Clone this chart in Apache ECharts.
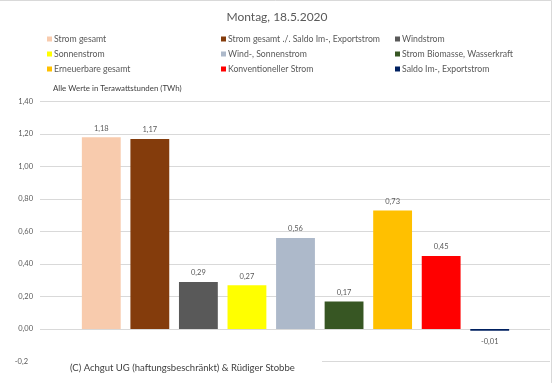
<!DOCTYPE html>
<html><head><meta charset="utf-8">
<script src="https://cdn.jsdelivr.net/npm/echarts@6/dist/echarts.min.js"></script>
<style>html,body{margin:0;padding:0;background:#fff}#c{width:554px;height:383px}</style>
</head><body><div id="c"></div>
<script>
const categories = ['Strom gesamt','Strom gesamt ./. Saldo Im-, Exportstrom','Windstrom','Sonnenstrom','Wind-, Sonnenstrom','Strom Biomasse, Wasserkraft','Erneuerbare gesamt','Konventioneller Strom','Saldo Im-, Exportstrom'];
const values = [1.18, 1.17, 0.29, 0.27, 0.56, 0.17, 0.73, 0.45, -0.01];
const colors = ['#F8CBAD','#843C0C','#595959','#FFFF00','#ADB9CA','#375623','#FFC000','#FF0000','#002060'];
const yTicks = {min: -0.2, max: 1.4, interval: 0.2};
const titleText = 'Montag, 18.5.2020';
const unitText = 'Alle Werte in Terawattstunden (TWh)';
const copyright = '(C) Achgut UG (haftungsbeschränkt) & Rüdiger Stobbe';

const FONT = 'Lato';
const fmt = v => v.toFixed(2).replace('.', ',');

const series = categories.map((name, i) => ({
  name, type: 'bar', stack: 'all', xAxisIndex: 0, yAxisIndex: 0,
  barWidth: '80%',
  itemStyle: {color: colors[i]},
  data: values.map((v, j) => j === i ? v : '-'),
  label: {show: true, position: values[i] < 0 ? 'bottom' : 'top', distance: values[i] < 0 ? 7 : 5,
    color: '#595959', fontSize: 7.5, fontFamily: FONT,
    formatter: p => fmt(p.value)}
}));

const legendCol = (idxs, left) => ({
  orient: 'vertical', left, top: 29, itemWidth: 5, itemHeight: 5, itemGap: 5,
  icon: 'rect', selectedMode: false,
  textStyle: {color: '#595959', fontSize: 8.7, lineHeight: 10, fontFamily: FONT, padding: [0,0,0,-3]},
  data: idxs.map(i => categories[i])
});

const chart = echarts.init(document.getElementById('c'), null, {renderer: 'canvas'});
chart.setOption({
  animation: false,
  title: {text: titleText, left: 'center', top: 6, textStyle: {color: '#595959', fontSize: 12, fontWeight: 'normal', fontFamily: FONT}},
  legend: [legendCol([0,3,6], 42), legendCol([1,4,7], 216), legendCol([2,5,8], 390)],
  grid: [
    {left: 77, right: 40, top: 101.5, bottom: 21.5},
    {left: 40, right: 4, top: 101.5, bottom: 21.5}
  ],
  xAxis: [
    {type: 'category', gridIndex: 0, data: categories, show: false},
    {type: 'category', gridIndex: 1, data: [''], show: false}
  ],
  yAxis: [
    {type: 'value', gridIndex: 0, ...yTicks, show: false, splitLine: {show: false}},
    {type: 'value', gridIndex: 1, ...yTicks,
      axisLine: {show: false}, axisTick: {show: false},
      splitLine: {lineStyle: {color: '#D9D9D9', width: 1}},
      axisLabel: {color: '#595959', fontSize: 7.5, fontFamily: FONT, margin: 7,
        formatter: v => Math.abs(v - yTicks.min) < 1e-9 ? '{a|-0,2}' : fmt(v),
        rich: {a: {color: '#595959', fontSize: 7.5, fontFamily: FONT, padding: [0,5,0,0]}}}}
  ],
  graphic: [
    {type: 'rect', shape: {x: -2, y: 0.5, width: 553.5, height: 400}, style: {fill: 'none', stroke: '#D9D9D9', lineWidth: 1}, z: 100},
    {type: 'text', left: 53, top: 84, style: {text: unitText, fill: '#404040', fontSize: 7.9, fontFamily: FONT}},
    {type: 'rect', shape: {x: 40, y: 356, width: 282, height: 14}, style: {fill: '#fff'}, z: 50},
    {type: 'text', left: 70, top: 363, style: {text: copyright, fill: '#404040', fontSize: 9.5, fontFamily: FONT}, z: 60}
  ],
  series
});
</script></body></html>
